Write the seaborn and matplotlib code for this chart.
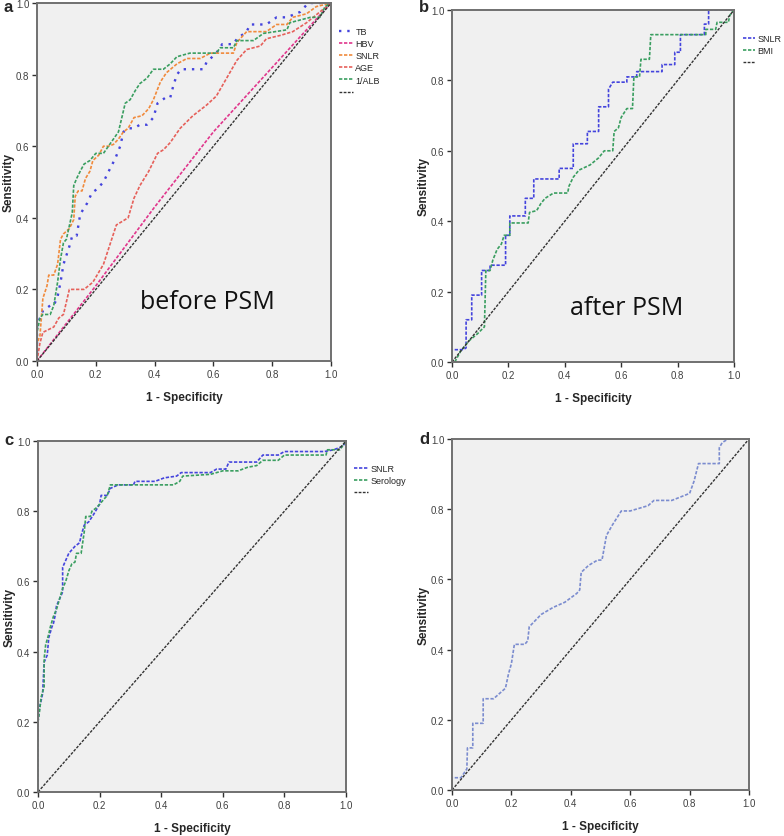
import numpy as np
import pandas as pd
import matplotlib
matplotlib.use("Agg")
import matplotlib.pyplot as plt
import seaborn as sns

# ---- panel a: before PSM ----
a_tb_x = [0, 0, 0.01, 0.02, 0.045, 0.057, 0.07, 0.08, 0.09, 0.11, 0.12, 0.135, 0.147, 0.17, 0.187, 0.204,
          0.226, 0.25, 0.266, 0.283, 0.294, 0.31, 0.33, 0.35, 0.374, 0.396, 0.41, 0.436, 0.453, 0.464, 0.476,
          0.49, 0.566, 0.577, 0.61, 0.63, 0.668, 0.68, 0.713, 0.725, 0.78, 0.815, 0.85, 0.895, 0.923, 0.97, 1.0]
a_tb_y = [0, 0.1, 0.12, 0.14, 0.155, 0.155, 0.18, 0.22, 0.27, 0.32, 0.35, 0.35, 0.41, 0.44, 0.47, 0.48,
          0.5, 0.54, 0.565, 0.6, 0.64, 0.65, 0.65, 0.66, 0.66, 0.68, 0.72, 0.735, 0.735, 0.77, 0.8,
          0.815, 0.815, 0.835, 0.86, 0.885, 0.885, 0.9, 0.92, 0.94, 0.94, 0.96, 0.96, 0.975, 1.0, 1.0, 1.0]

a_hbv_x = [0, 0.2, 0.4, 0.6, 0.8, 0.9, 1.0]
a_hbv_y = [0, 0.21, 0.43, 0.64, 0.82, 0.91, 1.0]

a_snlr_x = [0, 0, 0.01, 0.02, 0.034, 0.04, 0.057, 0.07, 0.08, 0.09, 0.11, 0.125, 0.13, 0.14, 0.153, 0.165,
            0.18, 0.19, 0.21, 0.226, 0.243, 0.26, 0.277, 0.294, 0.31, 0.33, 0.357, 0.38, 0.396, 0.42, 0.44,
            0.476, 0.51, 0.555, 0.59, 0.668, 0.68, 0.713, 0.78, 0.815, 0.85, 0.87, 0.917, 0.95, 1.0]
a_snlr_y = [0, 0.05, 0.07, 0.175, 0.21, 0.24, 0.24, 0.27, 0.34, 0.355, 0.37, 0.395, 0.46, 0.475, 0.475, 0.51,
            0.53, 0.56, 0.575, 0.6, 0.6, 0.605, 0.62, 0.64, 0.65, 0.68, 0.685, 0.705, 0.73, 0.78, 0.805,
            0.83, 0.845, 0.845, 0.86, 0.86, 0.89, 0.92, 0.92, 0.94, 0.94, 0.96, 0.97, 0.99, 1.0]

a_age_x = [0, 0.01, 0.02, 0.057, 0.074, 0.09, 0.11, 0.16, 0.19, 0.226, 0.25, 0.27, 0.31, 0.33, 0.35, 0.38,
           0.41, 0.43, 0.453, 0.487, 0.53, 0.577, 0.61, 0.645, 0.68, 0.713, 0.76, 0.78, 0.83, 0.87, 0.917,
           0.962, 1.0]
a_age_y = [0, 0.05, 0.08, 0.095, 0.12, 0.13, 0.2, 0.2, 0.22, 0.27, 0.33, 0.38, 0.4, 0.455, 0.49, 0.53,
           0.58, 0.59, 0.61, 0.65, 0.685, 0.715, 0.74, 0.79, 0.84, 0.87, 0.88, 0.9, 0.91, 0.92, 0.945,
           0.975, 1.0]

a_alb_x = [0, 0, 0.01, 0.02, 0.045, 0.057, 0.07, 0.08, 0.09, 0.1, 0.12, 0.125, 0.135, 0.147, 0.16, 0.18,
           0.2, 0.226, 0.243, 0.26, 0.277, 0.29, 0.3, 0.317, 0.334, 0.35, 0.374, 0.396, 0.43, 0.453, 0.476,
           0.52, 0.61, 0.623, 0.668, 0.68, 0.736, 0.77, 0.85, 0.86, 0.93, 0.962, 0.98, 1.0]
a_alb_y = [0, 0.08, 0.12, 0.13, 0.13, 0.155, 0.22, 0.285, 0.33, 0.34, 0.415, 0.49, 0.51, 0.53, 0.55, 0.56,
           0.58, 0.58, 0.6, 0.62, 0.64, 0.685, 0.72, 0.73, 0.755, 0.775, 0.79, 0.815, 0.815, 0.83, 0.85,
           0.86, 0.86, 0.875, 0.875, 0.895, 0.895, 0.915, 0.925, 0.945, 0.96, 0.96, 0.99, 1.0]

# ---- panel b: after PSM ----
b_snlr_x = [0, 0, 0.04, 0.05, 0.05, 0.07, 0.07, 0.105, 0.105, 0.135, 0.135, 0.19, 0.19, 0.205, 0.205,
            0.26, 0.26, 0.29, 0.29, 0.38, 0.38, 0.43, 0.43, 0.48, 0.48, 0.52, 0.52, 0.555, 0.555, 0.57,
            0.62, 0.62, 0.655, 0.655, 0.745, 0.745, 0.79, 0.79, 0.81, 0.81, 0.895, 0.895, 0.91, 0.91, 1.0]
b_snlr_y = [0, 0.035, 0.035, 0.04, 0.12, 0.12, 0.19, 0.19, 0.26, 0.26, 0.275, 0.275, 0.36, 0.36, 0.415,
            0.415, 0.465, 0.465, 0.52, 0.52, 0.55, 0.55, 0.62, 0.62, 0.655, 0.655, 0.725, 0.725, 0.775, 0.795,
            0.795, 0.81, 0.81, 0.825, 0.825, 0.845, 0.845, 0.88, 0.88, 0.93, 0.93, 0.96, 0.96, 1.0, 1.0]

b_bmi_x = [0.01, 0.03, 0.06, 0.09, 0.115, 0.12, 0.135, 0.145, 0.16, 0.175, 0.185, 0.205, 0.205, 0.27, 0.275,
           0.3, 0.315, 0.33, 0.36, 0.41, 0.415, 0.43, 0.45, 0.49, 0.52, 0.54, 0.57, 0.575, 0.59, 0.6, 0.62,
           0.64, 0.645, 0.665, 0.67, 0.7, 0.705, 0.9, 0.9, 0.935, 0.94, 0.98, 0.985, 1.0]
b_bmi_y = [0, 0.03, 0.06, 0.08, 0.1, 0.26, 0.26, 0.29, 0.32, 0.335, 0.36, 0.36, 0.395, 0.395, 0.425,
           0.43, 0.45, 0.465, 0.48, 0.48, 0.5, 0.525, 0.545, 0.56, 0.58, 0.6, 0.6, 0.655, 0.665, 0.695, 0.72,
           0.72, 0.81, 0.81, 0.86, 0.86, 0.93, 0.93, 0.945, 0.945, 0.965, 0.965, 0.985, 1.0]

# ---- panel c ----
c_snlr_x = [0, 0, 0.005, 0.01, 0.015, 0.02, 0.03, 0.035, 0.045, 0.05, 0.055, 0.06, 0.07, 0.08, 0.08, 0.09,
            0.1, 0.11, 0.12, 0.135, 0.14, 0.15, 0.165, 0.18, 0.2, 0.205, 0.225, 0.235, 0.26, 0.31, 0.315,
            0.38, 0.41, 0.45, 0.465, 0.56, 0.58, 0.61, 0.62, 0.71, 0.73, 0.78, 0.8, 0.93, 0.96, 0.99, 1.0]
c_snlr_y = [0, 0.2, 0.24, 0.26, 0.28, 0.37, 0.39, 0.44, 0.47, 0.48, 0.5, 0.53, 0.55, 0.57, 0.64, 0.66,
            0.68, 0.69, 0.7, 0.71, 0.73, 0.76, 0.77, 0.79, 0.82, 0.845, 0.845, 0.865, 0.875, 0.875, 0.885,
            0.885, 0.895, 0.9, 0.91, 0.91, 0.92, 0.92, 0.94, 0.94, 0.96, 0.96, 0.97, 0.97, 0.975, 0.985, 1.0]

c_ser_x = [0, 0, 0.005, 0.01, 0.02, 0.02, 0.025, 0.035, 0.04, 0.05, 0.06, 0.07, 0.08, 0.09, 0.1, 0.11,
           0.12, 0.125, 0.14, 0.15, 0.155, 0.17, 0.175, 0.19, 0.2, 0.225, 0.235, 0.44, 0.46, 0.47, 0.56,
           0.6, 0.65, 0.68, 0.71, 0.73, 0.78, 0.8, 0.935, 0.94, 0.98, 1.0]
c_ser_y = [0, 0.2, 0.23, 0.27, 0.3, 0.38, 0.42, 0.45, 0.47, 0.5, 0.52, 0.55, 0.58, 0.6, 0.63, 0.65,
           0.655, 0.68, 0.68, 0.74, 0.785, 0.785, 0.8, 0.81, 0.82, 0.845, 0.875, 0.875, 0.885, 0.9, 0.905,
           0.915, 0.915, 0.925, 0.93, 0.945, 0.945, 0.96, 0.96, 0.975, 0.975, 1.0]

# ---- panel d ----
d_x = [0, 0, 0.03, 0.05, 0.052, 0.07, 0.07, 0.105, 0.105, 0.14, 0.18, 0.19, 0.2, 0.21, 0.245, 0.255, 0.26,
       0.3, 0.34, 0.38, 0.42, 0.43, 0.435, 0.46, 0.49, 0.505, 0.52, 0.54, 0.57, 0.6, 0.66, 0.68, 0.74, 0.8,
       0.815, 0.83, 0.9, 0.9, 0.91, 0.93, 1.0]
d_y = [0, 0.035, 0.035, 0.06, 0.12, 0.12, 0.19, 0.19, 0.26, 0.26, 0.29, 0.33, 0.36, 0.415, 0.415, 0.425,
       0.465, 0.5, 0.52, 0.535, 0.56, 0.57, 0.62, 0.64, 0.655, 0.655, 0.725, 0.755, 0.795, 0.795, 0.81,
       0.825, 0.825, 0.845, 0.88, 0.93, 0.93, 0.975, 0.99, 1.0, 1.0]

ref_x = [0, 1]
ref_y = [0, 1]

ticks = [0.0, 0.2, 0.4, 0.6, 0.8, 1.0]

sns.set_theme(style="ticks")
plt.rcParams['font.family'] = ['Liberation Sans', 'DejaVu Sans']

W, H = 784, 837
fig = plt.figure(figsize=(W / 100, H / 100), dpi=100)


def make_ax(left, top, right, bottom):
    ax = fig.add_axes([left / W, 1 - bottom / H, (right - left) / W, (bottom - top) / H])
    ax.set_facecolor('#f0f0f0')
    for s in ax.spines.values():
        s.set_color('#707070')
        s.set_linewidth(1.4)
    ax.set_xlim(0, 1)
    ax.set_ylim(0, 1)
    ax.set_xticks(ticks)
    ax.set_yticks(ticks)
    ax.set_xticklabels([f"{t:.1f}" for t in ticks])
    ax.set_yticklabels([f"{t:.1f}" for t in ticks])
    ax.tick_params(labelsize=7, labelcolor='#404040', length=3.5, width=1, color='#303030', pad=2)
    ax.set_xlabel("1 - Specificity", fontsize=8.5, fontweight='bold', labelpad=9)
    ax.set_ylabel("Sensitivity", fontsize=8.5, fontweight='bold', labelpad=1)
    return ax


def curve(ax, x, y, color, label, ls=(0, (2, 1)), lw=1.2):
    sns.lineplot(x=x, y=y, ax=ax, sort=False, estimator=None, color=color,
                 linestyle=ls, linewidth=lw, label=label)


def diag(ax):
    curve(ax, ref_x, ref_y, '#333333', ' ', ls=(0, (2, 1)), lw=1.0)


def legend(ax, x, y, hl=1.5):
    ax.legend(loc='upper left', bbox_to_anchor=(x / W, 1 - y / H), bbox_transform=fig.transFigure,
              frameon=False, fontsize=6.5, handlelength=hl, handletextpad=0.3,
              labelspacing=0.35, borderpad=0, borderaxespad=0)


blue = '#4444dd'
green = '#3a9e60'

# a
ax = make_ax(37, 4, 331, 362)
curve(ax, a_tb_x, a_tb_y, blue, 'TB', ls=(0, (1, 2.5)), lw=1.7)
curve(ax, a_hbv_x, a_hbv_y, '#e0368c', 'HBV')
curve(ax, a_snlr_x, a_snlr_y, '#f08a3c', 'SNLR')
curve(ax, a_age_x, a_age_y, '#e6605a', 'AGE')
curve(ax, a_alb_x, a_alb_y, green, '1/ALB')
diag(ax)
legend(ax, 339, 28)
ax.text(0.58, 0.165, "before PSM", fontsize=18, family=['Open Sans', 'DejaVu Sans'],
        ha='center', va='center', color='#111111')
fig.text(4 / W, 1 - 8 / H, "a", fontsize=12, fontweight='bold', va='center', ha='left')

# b
ax = make_ax(452, 11, 734, 363)
curve(ax, b_snlr_x, b_snlr_y, blue, 'SNLR')
curve(ax, b_bmi_x, b_bmi_y, green, 'BMI')
diag(ax)
legend(ax, 743, 35, hl=1.3)
ax.text(0.62, 0.156, "after PSM", fontsize=18, family=['Open Sans', 'DejaVu Sans'],
        ha='center', va='center', color='#111111')
fig.text(419 / W, 1 - 7 / H, "b", fontsize=12, fontweight='bold', va='center', ha='left')

# c
ax = make_ax(38, 442, 346, 793)
curve(ax, c_snlr_x, c_snlr_y, blue, 'SNLR')
curve(ax, c_ser_x, c_ser_y, green, 'Serology')
diag(ax)
legend(ax, 354, 465)
fig.text(4 / W, 1 - 441 / H, "c", fontsize=12, fontweight='bold', va='center', ha='left')

# d
ax = make_ax(452, 440, 749, 791)
curve(ax, d_x, d_y, '#7b8ccf', None)
curve(ax, ref_x, ref_y, '#333333', None, lw=1.0)
if ax.get_legend() is not None:
    ax.get_legend().remove()
fig.text(419 / W, 1 - 440 / H, "d", fontsize=12, fontweight='bold', va='center', ha='left')

fig.savefig("out.png", dpi=100)
